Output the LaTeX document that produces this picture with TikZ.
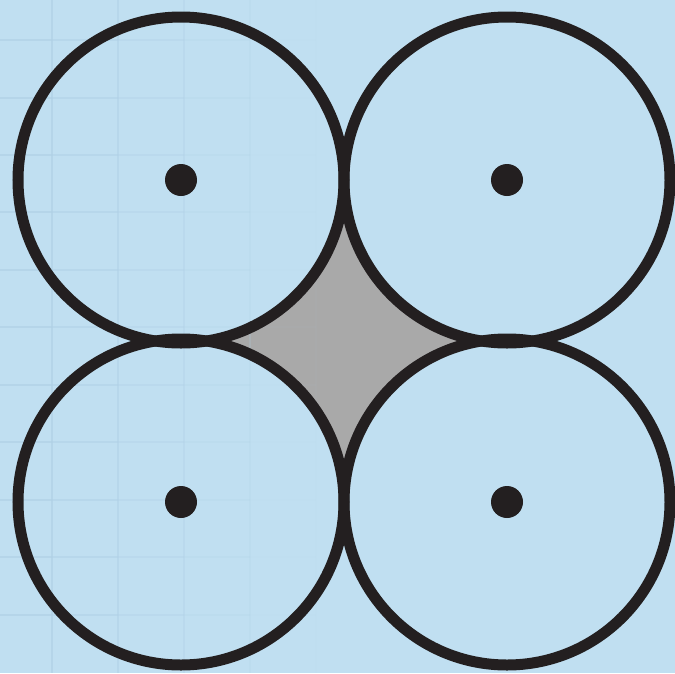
\documentclass[tikz,border=0pt]{standalone}
\definecolor{bgblue}{RGB}{192,223,241}
\definecolor{gridblue}{RGB}{176,209,230}
\definecolor{inkblack}{RGB}{35,31,32}
\definecolor{shadegray}{RGB}{169,169,169}
\tikzset{
  ringfill/.style={fill=bgblue, draw=none, circle, minimum size=326pt, inner sep=0pt},
  ring/.style={draw=inkblack, line width=11pt, circle, minimum size=326pt, inner sep=0pt},
  centerdot/.style={circle, fill=inkblack, inner sep=0pt, minimum size=32pt},
  gridline/.style={draw=gridblue, line width=1.6pt}
}
\begin{document}
\begin{tikzpicture}[x=1pt,y=-1pt]
\useasboundingbox (0,0) rectangle (675,673);
\fill[bgblue] (0,0) rectangle (675,673);
% gray region between the circles
\fill[shadegray] (181,180) rectangle (507,502);
\foreach \cx/\cy in {181/180,507/180,181/502,507/502}
  \node[ringfill] at (\cx,\cy) {};
% faint grid, fading to the right
\foreach \gx in {52,118,184,250,316} {
  \pgfmathsetmacro{\op}{max(0,0.8-0.0024*\gx)}
  \draw[gridline, opacity=\op] (\gx,0) -- (\gx,673);
}
\foreach \gy in {40,98,155,212,270,327,385,442,500,557,615} {
  \foreach \xa/\xb in {0/52,52/118,118/184,184/250,250/316,316/382} {
    \pgfmathsetmacro{\op}{max(0,0.8-0.0024*\xb)}
    \draw[gridline, opacity=\op] (\xa,\gy) -- (\xb,\gy);
  }
}
% circles
\node[ring] (c1) at (181,180) {};
\node[ring] (c2) at (507,180) {};
\node[ring] (c3) at (181,502) {};
\node[ring] (c4) at (507,502) {};
% centers
\node[centerdot] (d1) at (c1.center) {};
\node[centerdot] (d2) at (c2.center) {};
\node[centerdot] (d3) at (c3.center) {};
\node[centerdot] (d4) at (c4.center) {};
\end{tikzpicture}
\end{document}
